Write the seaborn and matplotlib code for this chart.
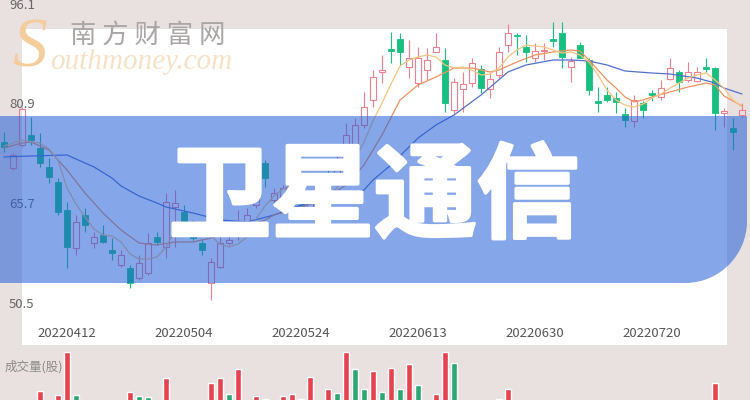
import numpy as np
import matplotlib
matplotlib.use("Agg")
import matplotlib.pyplot as plt
import matplotlib.patheffects as pe
import seaborn as sns
from matplotlib.patches import Rectangle, PathPatch
from matplotlib.path import Path

# -------------------------------
# Data
# -------------------------------
open_ = [75.28, 71.32, 74.82, 76.34, 74.36, 71.48, 69.20, 64.94, 59.16, 64.18,
         59.92, 61.14, 58.86, 56.58, 56.12, 54.60, 55.36, 60.84, 59.32, 65.40,
         64.64, 62.66, 59.92, 53.84, 56.28, 59.92, 61.14, 63.12, 65.70, 72.08,
         66.46, 66.46, 67.98, 65.70, 64.64, 66.76, 69.80, 69.50, 73.00, 74.06,
         77.86, 81.66, 85.92, 89.41, 90.93, 86.68, 84.24, 86.22, 88.96, 87.74,
         80.14, 83.33, 84.24, 86.37, 83.33, 85.46, 90.02, 91.54, 89.72, 88.04,
         89.11, 90.93, 91.84, 86.68, 90.02, 87.74, 81.51, 82.42, 81.96, 79.53,
         78.47, 81.20, 82.72, 82.12, 84.85, 85.92, 84.70, 84.55, 86.68, 86.52,
         79.68, 77.40, 79.38]
high = [76.80, 73.60, 80.60, 79.08, 76.64, 72.84, 69.80, 66.16, 64.18, 65.24,
        61.60, 62.66, 60.68, 58.86, 56.58, 58.10, 61.44, 61.60, 67.52, 67.98,
        65.70, 63.42, 60.38, 57.64, 64.64, 61.90, 64.94, 65.24, 72.54, 72.54,
        68.28, 68.74, 68.74, 67.22, 67.22, 69.50, 71.32, 73.30, 78.16, 78.92,
        82.88, 86.22, 88.50, 92.00, 91.84, 90.78, 89.72, 89.56, 91.84, 89.56,
        85.00, 85.92, 88.04, 86.98, 85.76, 89.72, 93.21, 91.84, 91.54, 90.32,
        90.32, 93.52, 93.52, 88.20, 90.48, 88.04, 83.64, 83.64, 82.88, 80.44,
        82.42, 81.51, 83.18, 84.70, 88.04, 86.22, 87.44, 86.68, 88.04, 86.68,
        80.44, 78.92, 81.20]
low = [73.76, 71.02, 74.52, 74.82, 71.48, 69.04, 64.18, 56.12, 58.10, 61.60,
       59.16, 59.92, 57.34, 56.28, 53.08, 54.30, 55.06, 59.62, 57.64, 59.32,
       61.90, 60.38, 58.10, 51.26, 56.12, 59.62, 60.38, 62.66, 65.24, 68.44,
       66.00, 65.70, 66.46, 63.72, 64.18, 66.46, 68.59, 68.74, 72.54, 73.76,
       77.40, 80.60, 84.24, 87.28, 86.98, 85.00, 83.64, 84.70, 88.96, 79.84,
       79.38, 79.84, 83.64, 82.72, 81.96, 85.00, 88.96, 88.50, 87.44, 87.44,
       87.74, 89.72, 86.52, 84.40, 88.04, 82.42, 79.84, 81.36, 79.68, 77.56,
       77.56, 78.92, 81.51, 81.66, 84.70, 82.88, 84.40, 84.40, 85.92, 77.10,
       77.56, 74.06, 79.08]
close = [74.52, 73.30, 80.29, 75.58, 72.08, 69.96, 64.64, 59.32, 63.12, 62.66,
         60.84, 60.08, 58.40, 58.10, 53.84, 56.88, 59.92, 60.08, 66.16, 66.00,
         62.36, 60.68, 58.86, 57.04, 59.92, 60.38, 62.66, 64.18, 71.02, 69.80,
         67.52, 68.28, 67.07, 64.48, 66.76, 68.74, 69.04, 72.54, 76.34, 77.86,
         80.60, 85.16, 86.22, 89.11, 88.96, 88.04, 88.04, 87.74, 89.72, 81.20,
         84.40, 84.09, 87.28, 83.48, 84.85, 88.96, 91.84, 91.39, 88.96, 89.11,
         89.26, 90.63, 88.20, 87.59, 88.04, 83.18, 81.20, 81.66, 81.36, 78.62,
         81.66, 80.14, 82.42, 83.48, 86.52, 84.40, 85.92, 85.92, 86.37, 79.68,
         79.99, 76.80, 80.14]

volume = [38, 30, 42, 33, 55.3, 40, 50.7, 100, 50.7, 36,
          28, 31, 27, 34, 54.2, 49.6, 48.4, 35, 70.2, 44,
          39, 36, 30, 64.5, 70.2, 51.9, 80.5, 42, 49.6, 46.1,
          40, 49.6, 51.9, 46.1, 71.4, 43, 57.6, 53.0, 100, 80.5,
          57.6, 78.2, 54.2, 81.6, 57.6, 86.3, 62.2, 44, 51.9, 100,
          87.4, 43, 41, 38, 40, 46.1, 57.6, 35, 33, 30,
          28, 36, 42, 29, 31, 40, 27, 25, 28, 33,
          38, 26, 22, 24, 30, 27, 25, 23, 26, 64.5,
          35, 41, 30]
vol_red_idx = [4, 6, 7, 14, 18, 23, 24, 26, 28, 31, 32, 34, 36, 38, 41, 43,
               45, 48, 49, 55, 56, 79]

date_idx = [7, 20, 33, 46, 59, 72]
date_labels = ["20220412", "20220504", "20220524", "20220613", "20220630", "20220720"]
price_ticks = [96.1, 80.9, 65.7, 50.5]

ma5_idx = [0, 2] + list(range(4, 83))
ma5 = [74.67, 75.58, 75.12, 74.21, 72.54, 68.28, 65.85, 63.87, 62.05, 61.14,
       60.99, 60.08, 58.25, 57.49, 57.49, 57.80, 59.32, 61.75, 62.96, 63.12,
       62.81, 60.99, 59.77, 59.32, 59.77, 60.84, 63.57, 65.55, 67.07, 68.13,
       68.74, 67.37, 66.76, 67.07, 67.22, 68.28, 70.72, 72.84, 75.28, 78.47,
       81.20, 84.09, 86.83, 87.74, 88.20, 88.50, 88.20, 86.98, 86.52, 86.68,
       86.22, 85.46, 85.61, 86.52, 88.20, 89.26, 90.02, 89.87, 89.72, 89.26,
       88.80, 88.96, 88.50, 87.44, 85.46, 83.18, 81.66, 80.90, 80.60, 81.05,
       81.96, 82.57, 83.48, 84.24, 85.00, 85.46, 85.76, 84.70, 83.48, 81.66,
       80.60]

ma10_idx = [0, 2, 3, 5, 7, 9, 11, 13, 15, 17, 19, 21, 23, 25, 27, 29, 30, 32, 34, 36,
            38, 40, 41, 42, 44, 46, 48, 50, 52, 54, 55, 57, 59, 61, 63, 64, 65, 66, 67, 68,
            69, 70, 71, 72, 74, 76, 78, 79, 80, 82]
ma10 = [74.36, 75.12, 75.28, 74.06, 71.02, 67.52, 64.48, 61.90, 59.92, 59.62,
        60.08, 60.08, 60.68, 61.60, 62.51, 63.42, 64.18, 64.94, 65.85, 66.92,
        68.74, 71.78, 74.06, 76.34, 81.66, 83.94, 85.16, 86.52, 86.52, 85.92,
        86.22, 87.44, 88.50, 88.96, 89.26, 89.11, 87.74, 86.22, 84.70, 83.48,
        82.12, 81.36, 81.66, 82.12, 82.88, 83.64, 84.24, 83.94, 82.27, 80.75]

ma20_idx = [0, 3, 7, 10, 12, 13, 15, 17, 18, 21, 24, 27, 30, 33, 36, 38, 40, 41,
            43, 46, 48, 50, 53, 56, 58, 61, 63, 65, 67, 69, 72, 74, 77, 79, 80, 82]
ma20 = [73.00, 73.15, 73.30, 71.48, 69.80, 68.59, 67.07, 66.00, 65.40, 64.48,
        63.42, 63.12, 64.18, 65.70, 66.61, 67.07, 67.98, 69.50, 71.78, 75.88,
        77.86, 79.38, 82.42, 85.92, 86.98, 87.74, 87.74, 87.59, 86.98, 86.07,
        85.76, 85.61, 85.00, 84.24, 83.48, 82.57]

# -------------------------------
# Style
# -------------------------------
sns.set_theme(style="white")
plt.rcParams["font.family"] = ["Noto Sans CJK SC", "DejaVu Sans"]

UP = "#ec7f90"
DOWN = "#17c07e"
VOL_RED = "#e5434f"
VOL_GREEN = "#2ea872"

W, H = 750, 400
fig = plt.figure(figsize=(7.5, 4), dpi=100)
fig.patch.set_facecolor("#e9e0e0")


def fx(px):
    return px / W


def fy(py):
    return 1 - py / H


# white panel behind the candles
fig.add_artist(Rectangle((fx(22), fy(345)), fx(727) - fx(22), fy(29) - fy(345),
                         transform=fig.transFigure, facecolor="white",
                         edgecolor="none", zorder=-2))

# watermark
fig.text(fx(12), fy(50), "S", fontsize=50, family="Liberation Serif", style="italic",
         color="#f3cd9c", va="center", ha="left", zorder=-1)
fig.text(fx(70), fy(35), "南 方 财 富 网", fontsize=19, color="#aaa6a6",
         va="center", ha="left", zorder=-1)
fig.text(fx(50), fy(62), "outhmoney.com", fontsize=21, family="Liberation Serif",
         style="italic", color="#f6e1c6", va="center", ha="left", zorder=-1)

# -------------------------------
# Candles + moving averages
# -------------------------------
ax = fig.add_axes([0, 0.2, 1, 0.8])
ax.set_facecolor("none")
n = len(close)
x = np.arange(n)
o, c = np.array(open_), np.array(close)
h, l = np.array(high), np.array(low)
up = c >= o
cols = np.where(up, UP, DOWN)
lo_b = np.minimum(o, c)
hi_b = np.maximum(o, c)
hgt = np.maximum(hi_b - lo_b, 0.12)

ax.vlines(x, hi_b, h, colors=cols, lw=0.8, zorder=2)
ax.vlines(x, l, lo_b, colors=cols, lw=0.8, zorder=2)
ax.bar(x[up], hgt[up], bottom=lo_b[up], width=0.62, facecolor="none",
       edgecolor=UP, lw=0.8, zorder=2)
ax.bar(x[~up], hgt[~up], bottom=lo_b[~up], width=0.62, color=DOWN,
       edgecolor=DOWN, lw=0.6, zorder=2)

sns.lineplot(x=ma20_idx, y=ma20, ax=ax, color="#5370cc", lw=0.9, zorder=3)
sns.lineplot(x=ma10_idx, y=ma10, ax=ax, color="#ee9160", lw=0.9, zorder=3)
sns.lineplot(x=ma5_idx, y=ma5, ax=ax, color="#f5c47e", lw=0.9, zorder=3)

ax.set_xlim(-4 / 9, 746 / 9)
ax.set_ylim(48.22, 96.86)
ax.set_xticks(date_idx)
ax.set_xticklabels(date_labels, fontsize=9.5, color="#555555")
ax.tick_params(axis="x", length=0, pad=5)
ax.set_yticks([])
for v in price_ticks:
    ax.text(fx(9), v, f"{v}", transform=ax.get_yaxis_transform(), fontsize=9.5,
            color="#666666", ha="left", va="center")
for s in ax.spines.values():
    s.set_visible(False)

# -------------------------------
# Volume
# -------------------------------
axv = fig.add_axes([0, 0, 1, 0.12])
axv.set_facecolor("none")
vcols = [VOL_RED if i in vol_red_idx else VOL_GREEN for i in range(n)]
axv.bar(x, volume, width=0.62, color=vcols, zorder=2)
axv.set_xlim(-4 / 9, 746 / 9)
axv.set_ylim(45, 100)
axv.set_xticks([])
axv.set_yticks([])
for s in axv.spines.values():
    s.set_visible(False)
axv.text(fx(5), fy(367), "成交量(股)", transform=fig.transFigure, fontsize=9,
         color="#8c8c8c", ha="left", va="center", zorder=1)

# -------------------------------
# Banner + title
# -------------------------------
r = 62
cx, cy = 685, 283 - r
ang = np.linspace(0, np.pi / 2, 30)
pts = [(0, 116), (747, 116), (747, cy)]
pts += [(cx + r * np.cos(a), cy + r * np.sin(a)) for a in ang]
pts += [(0, 283), (0, 116)]
verts = [(fx(px), fy(py)) for px, py in pts]
codes = [Path.MOVETO] + [Path.LINETO] * (len(verts) - 2) + [Path.CLOSEPOLY]
fig.add_artist(PathPatch(Path(verts, codes), transform=fig.transFigure,
                         facecolor="#225ed6", alpha=0.55, edgecolor="none", zorder=5))

fig.text(fx(374), fy(199), "卫星通信", fontsize=74, fontweight="black",
         color="white", ha="center", va="center", zorder=6,
         path_effects=[pe.withStroke(linewidth=2.5, foreground="white")])

fig.savefig("out.png", dpi=100)
